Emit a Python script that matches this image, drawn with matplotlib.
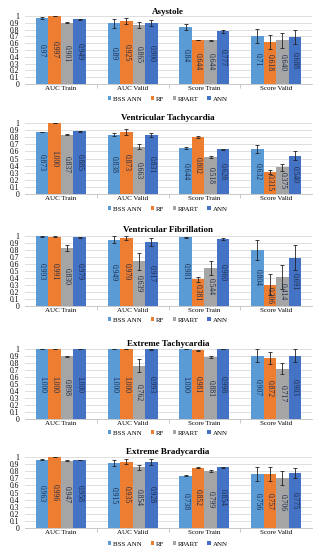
import numpy as np
import matplotlib.pyplot as plt

# categories and series
categories = ['AUC Train', 'AUC Valid', 'Score Train', 'Score Valid']
series = ['BSS ANN', 'RF', 'RPART', 'ANN']
colors = ['#5B9BD5', '#ED7D31', '#A5A5A5', '#4472C4']

titles = ['Asystole', 'Ventricular Tachycardia', 'Ventricular Fibrillation',
          'Extreme Tachycardia', 'Extreme Bradycardia']
labels_fmt = [
    [['0.97', '0.997', '0.901', '0.949'], ['0.89', '0.925', '0.865', '0.900'],
     ['0.84', '0.644', '0.644', '0.777'], ['0.71', '0.618', '0.640', '0.688']],
    None, None, None, None]

# values [category][series]
asystole = [[0.970, 0.997, 0.901, 0.949], [0.890, 0.925, 0.865, 0.900],
            [0.840, 0.644, 0.644, 0.777], [0.710, 0.618, 0.640, 0.688]]
asystole_err = [[0.008, 0.003, 0.006, 0.005], [0.06, 0.04, 0.045, 0.04],
                [0.04, 0.004, 0.008, 0.02], [0.10, 0.10, 0.11, 0.10]]

vtach = [[0.873, 1.000, 0.837, 0.885], [0.838, 0.873, 0.663, 0.831],
         [0.644, 0.802, 0.518, 0.628], [0.632, 0.315, 0.375, 0.540]]
vtach_err = [[0.006, 0.002, 0.006, 0.005], [0.02, 0.04, 0.035, 0.03],
             [0.015, 0.015, 0.015, 0.01], [0.06, 0.03, 0.05, 0.06]]

vfib = [[0.993, 0.991, 0.830, 0.979], [0.949, 0.970, 0.639, 0.917],
        [0.981, 0.381, 0.544, 0.960], [0.804, 0.306, 0.414, 0.691]]
vfib_err = [[0.005, 0.01, 0.045, 0.01], [0.05, 0.03, 0.12, 0.06],
            [0.005, 0.04, 0.10, 0.01], [0.14, 0.15, 0.17, 0.18]]

etach = [[1.000, 1.000, 0.898, 1.000], [1.000, 1.000, 0.762, 0.993],
         [1.000, 0.981, 0.881, 0.998], [0.907, 0.872, 0.717, 0.903]]
etach_err = [[0.0, 0.0, 0.006, 0.0], [0.0, 0.0, 0.09, 0.01],
             [0.0, 0.005, 0.012, 0.002], [0.09, 0.08, 0.08, 0.09]]

ebrad = [[0.963, 0.996, 0.947, 0.958], [0.915, 0.935, 0.854, 0.928],
         [0.738, 0.852, 0.799, 0.854], [0.756, 0.757, 0.706, 0.775]]
ebrad_err = [[0.005, 0.003, 0.006, 0.005], [0.04, 0.04, 0.04, 0.04],
             [0.01, 0.01, 0.015, 0.01], [0.10, 0.10, 0.10, 0.07]]

panels = [(asystole, asystole_err), (vtach, vtach_err), (vfib, vfib_err),
          (etach, etach_err), (ebrad, ebrad_err)]

# axes placement in pixels (top of plot area, bottom of plot area)
W, H = 323, 550
ax_px = [(16, 84), (123, 194), (236, 306), (349, 419), (457, 528)]
title_px = [12, 118, 230, 344, 452]
legend_px = [99, 209, 320, 433, 544]

plt.rcParams['font.family'] = ['Liberation Serif', 'DejaVu Serif']

fig = plt.figure(figsize=(W / 100, H / 100), dpi=100)
left, right = 25, 312
bw = 0.175
x = np.arange(len(categories))

for p, (vals, errs) in enumerate(panels):
    top, bot = ax_px[p]
    ax = fig.add_axes([left / W, 1 - bot / H, (right - left) / W, (bot - top) / H])
    vals = np.array(vals)
    errs = np.array(errs)
    for s in range(len(series)):
        xs = x + (s - 1.5) * bw
        ax.bar(xs, vals[:, s], bw, color=colors[s], label=series[s], zorder=2)
        ax.errorbar(xs, vals[:, s], yerr=errs[:, s], fmt='none', ecolor='#222222',
                    elinewidth=0.6, capsize=1.5, capthick=0.6, zorder=3)
        for c in range(len(categories)):
            if labels_fmt[p] is not None:
                txt = labels_fmt[p][c][s]
            else:
                txt = '%.3f' % vals[c, s]
            ax.text(xs[c], vals[c, s] / 2, txt, rotation=270, ha='center',
                    va='center', fontsize=5.5, color='#1b2a4a', zorder=4)
    ax.set_ylim(0, 1)
    ax.set_xlim(-0.5, 3.5)
    ax.set_yticks(np.arange(0, 1.01, 0.1))
    ax.set_yticklabels(['0'] + ['%.1f' % v for v in np.arange(0.1, 0.95, 0.1)] + ['1'])
    ax.set_xticks(x)
    ax.set_xticklabels(categories)
    ax.set_xticks([0.5, 1.5, 2.5], minor=True)
    ax.tick_params(axis='x', which='major', length=0, labelsize=5, pad=1.5)
    ax.tick_params(axis='x', which='minor', length=3, color='#bfbfbf', width=0.6)
    ax.tick_params(axis='y', length=0, labelsize=5.5, pad=4)
    ax.grid(axis='y', color='#d9d9d9', linewidth=0.6, zorder=0)
    for sp in ['top', 'right', 'left']:
        ax.spines[sp].set_visible(False)
    ax.spines['bottom'].set_color('#bfbfbf')
    ax.spines['bottom'].set_linewidth(0.6)
    fig.text(0.5 + 0.02, 1 - title_px[p] / H, titles[p], ha='center', va='center',
             fontsize=6.5, fontweight='bold')
    handles, labs = ax.get_legend_handles_labels()
    fig.legend(handles, labs, loc='center', bbox_to_anchor=(0.52, 1 - legend_px[p] / H),
               ncol=4, frameon=False, fontsize=5, handlelength=0.5, handleheight=0.5,
               handletextpad=0.3, columnspacing=1.2, borderaxespad=0, borderpad=0)

plt.savefig('out.png', dpi=100)
